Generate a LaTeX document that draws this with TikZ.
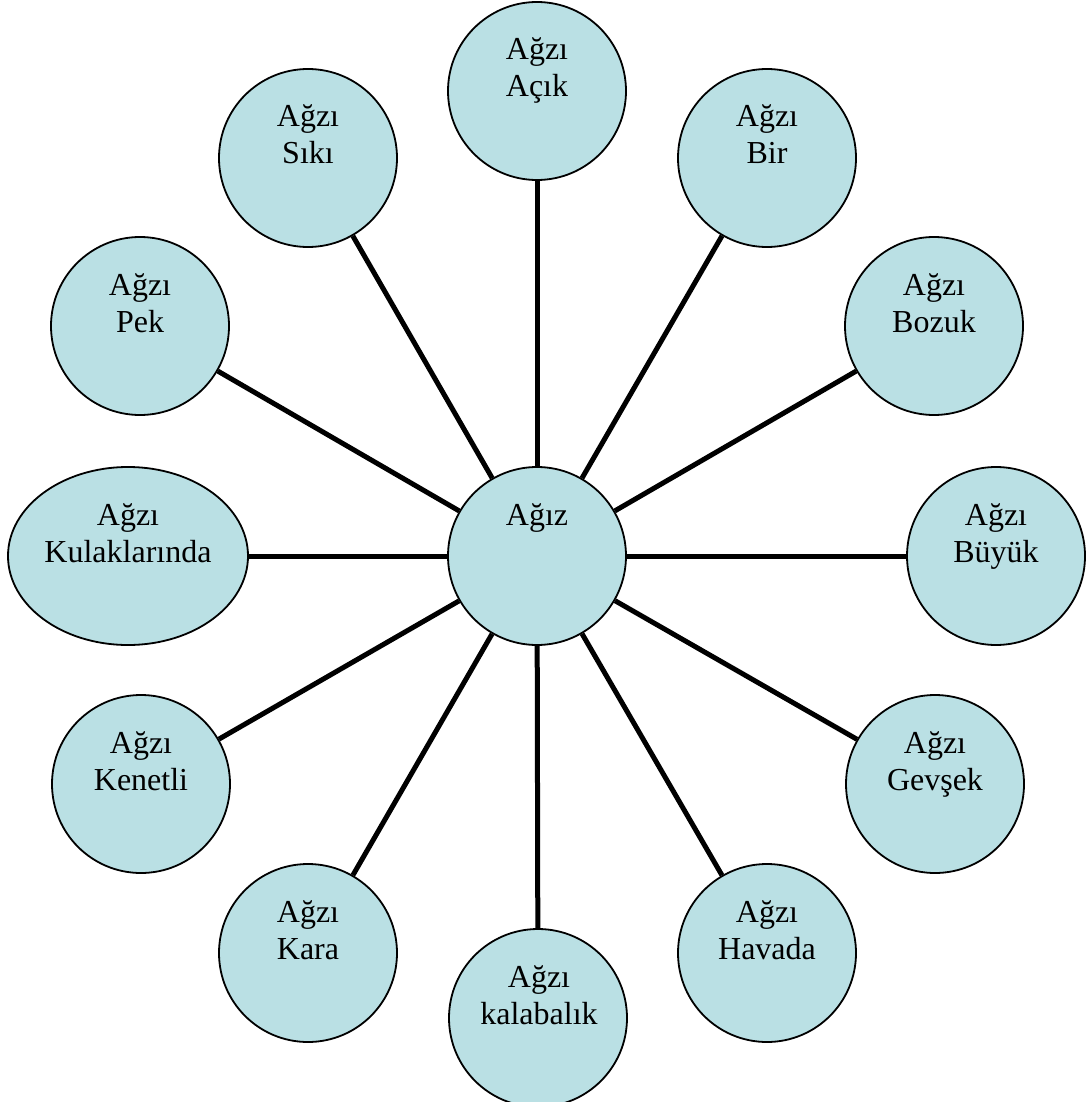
\documentclass[tikz,border=0pt]{standalone}
\usepackage{fontspec}
\setmainfont{Liberation Serif}
\usetikzlibrary{shapes.geometric,backgrounds}
\definecolor{bubble}{RGB}{186,224,228}
\tikzset{
  bub/.style={circle,draw=black,line width=1.8pt,fill=bubble,inner sep=0pt,minimum size=178pt},
  ell/.style={ellipse,draw=black,line width=1.8pt,fill=bubble,inner sep=0pt,minimum width=240pt,minimum height=178pt},
  txt/.style={anchor=base,align=center,inner sep=0pt,font=\fontsize{32}{37}\selectfont},
  conn/.style={line width=5pt}
}
\begin{document}
\begin{tikzpicture}[x=1pt,y=-1pt]
\useasboundingbox (0,0) rectangle (1091,1102);
\node[bub] (c) at (537,556) {};
\node[bub] (n1) at (537,91) {};
\node[bub] (n2) at (767,158) {};
\node[bub] (n3) at (934,326) {};
\node[bub] (n4) at (996,556) {};
\node[bub] (n5) at (935,784) {};
\node[bub] (n6) at (767,953) {};
\node[bub] (n7) at (538,1018) {};
\node[bub] (n8) at (308,953) {};
\node[bub] (n9) at (141,784) {};
\node[ell] (n10) at (128,556) {};
\node[bub] (n11) at (140,326) {};
\node[bub] (n12) at (308,158) {};
\begin{scope}[on background layer]
\foreach \i in {1,...,12} \draw[conn] (c) -- (n\i);
\end{scope}
\node[txt] (t0) at (537,525) {Ağız};
\node[txt] (t1) at (537,97) {Ağzı\\Açık};
\node[txt] (t2) at (767,164) {Ağzı\\Bir};
\node[txt] (t3) at (934,332) {Ağzı\\Bozuk};
\node[txt] (t4) at (996,562) {Ağzı\\Büyük};
\node[txt] (t5) at (935,790) {Ağzı\\Gevşek};
\node[txt] (t6) at (767,959) {Ağzı\\Havada};
\node[txt] (t7) at (539,1024) {Ağzı\\kalabalık};
\node[txt] (t8) at (308,959) {Ağzı\\Kara};
\node[txt] (t9) at (141,790) {Ağzı\\Kenetli};
\node[txt] (t10) at (128,562) {Ağzı\\Kulaklarında};
\node[txt] (t11) at (140,332) {Ağzı\\Pek};
\node[txt] (t12) at (308,164) {Ağzı\\Sıkı};
\end{tikzpicture}
\end{document}
